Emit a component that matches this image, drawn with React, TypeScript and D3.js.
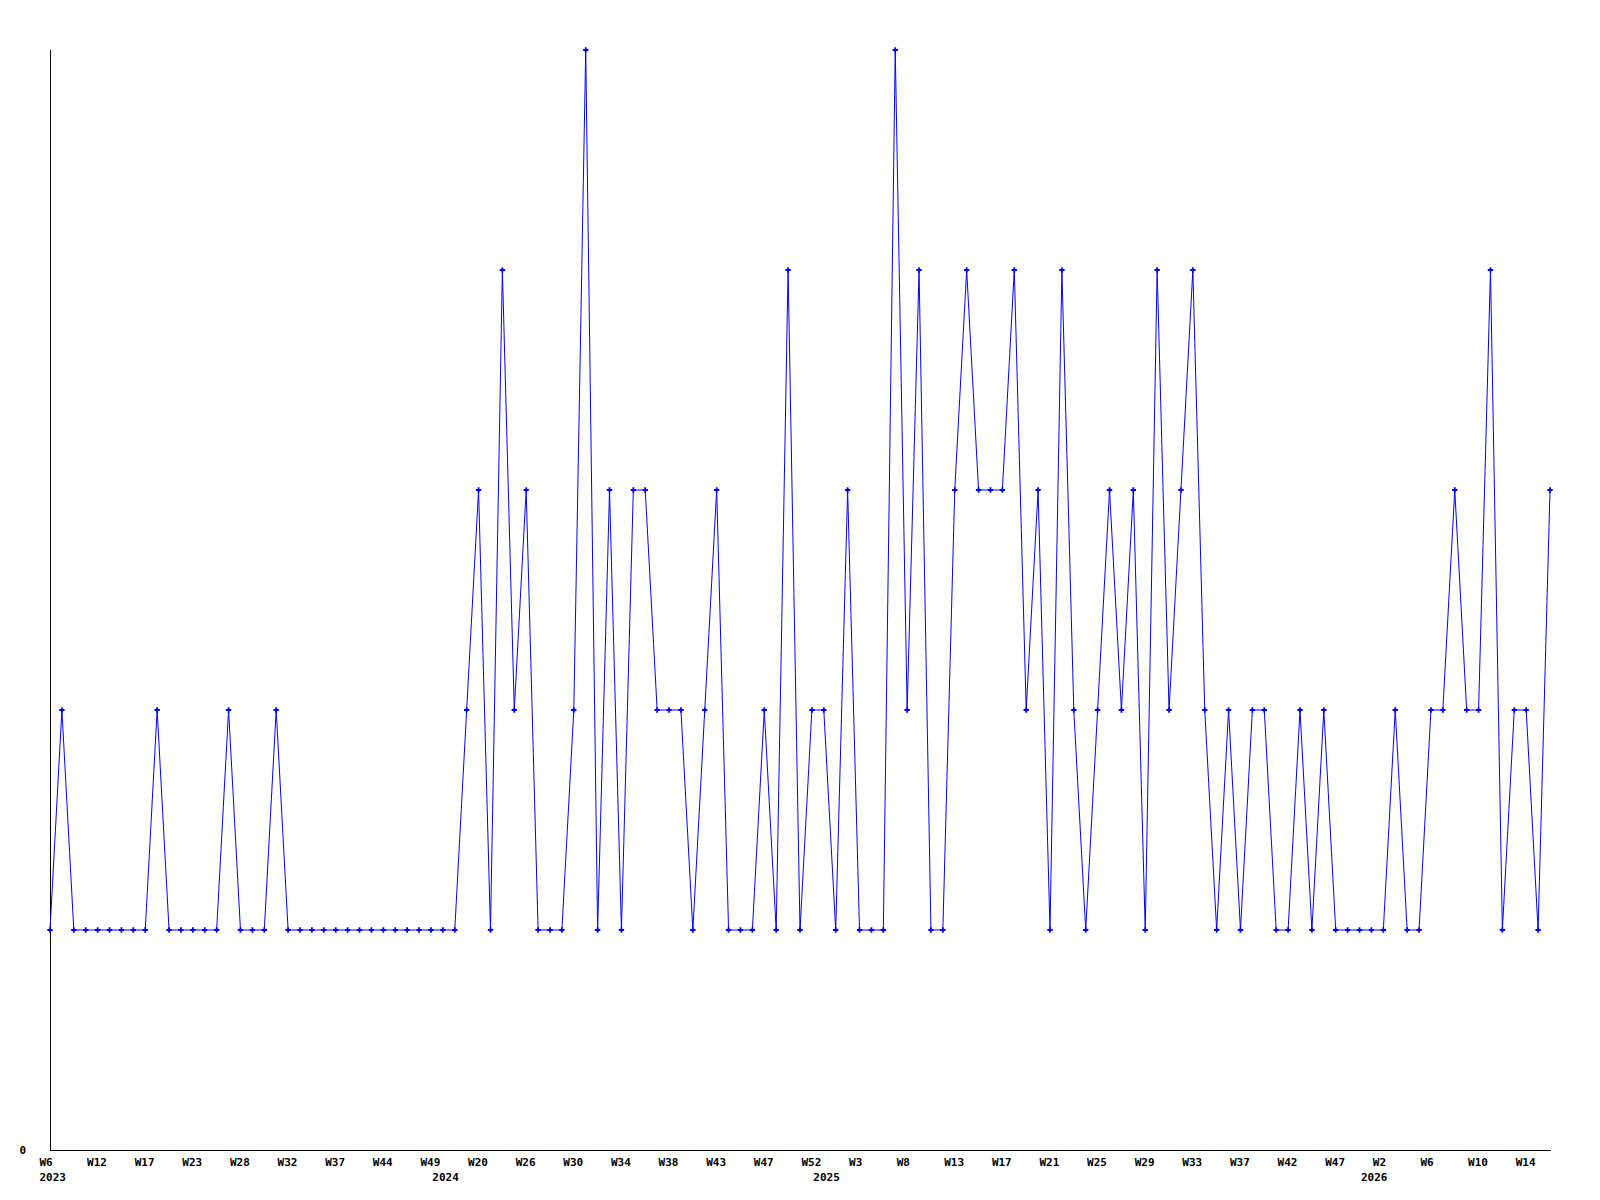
import React from "react";
import * as d3 from "d3";

// Weekly values, one per data point (left to right)
const values: number[] = [
  1, 2, 1, 1, 1, 1, 1, 1, 1, 2, 1, 1, 1, 1, 1, 2, 1, 1, 1, 2,
  1, 1, 1, 1, 1, 1, 1, 1, 1, 1, 1, 1, 1, 1, 1,
  2, 3, 1, 4, 2, 3, 1, 1, 1, 2, 5, 1, 3, 1, 3, 3, 2, 2, 2, 1, 2, 3, 1,
  1, 1, 2, 1, 4, 1, 2, 2, 1, 3,
  1, 1, 1, 5, 2, 4, 1, 1, 3, 4,
  3, 3, 3, 4, 2, 3, 1, 4, 2, 1,
  2, 3, 2, 3, 1, 4, 2, 3, 4, 2,
  1, 2, 1, 2, 2, 1, 1, 2, 1, 2,
  1, 1, 1, 1, 1, 2, 1, 1, 2, 2,
  3, 2, 2, 4, 1, 2, 2, 1, 3,
];

// Week tick labels, shown on every 4th data point
const weekTicks: string[] = [
  "W6", "W12", "W17", "W23", "W28", "W32", "W37", "W44", "W49", "W20",
  "W26", "W30", "W34", "W38", "W43", "W47", "W52", "W3", "W8", "W13",
  "W17", "W21", "W25", "W29", "W33", "W37", "W42", "W47", "W2", "W6",
  "W10", "W14",
];
const tickEvery = 4;

// Year labels at first data point of each year
const yearIndex: number[] = [0, 33, 65, 111];
const yearLabel: string[] = ["2023", "2024", "2025", "2026"];

const yMax = 5;

export default function App() {
  const W = 1600;
  const H = 1200;
  const left = 50;
  const right = 1550;
  const top = 50;
  const bottom = 1150;

  const x = d3.scaleLinear().domain([0, values.length - 1]).range([left, right]);
  const y = d3.scaleLinear().domain([0, yMax]).range([bottom, top]);

  const line = d3
    .line<number>()
    .x((_, i) => x(i))
    .y((d) => y(d));

  const marker = d3.symbol().type(d3.symbolCross).size(16)() as string;

  const font = "'DejaVu Sans Mono', 'Liberation Mono', monospace";

  return (
    <div style={{ position: "absolute", left: 0, top: 0 }}>
      <svg width={W} height={H} style={{ display: "block", background: "#fff" }}>
        <rect x={0} y={0} width={W} height={H} fill="#fff" />
        {/* axes */}
        <line x1={left + 0.5} x2={left + 0.5} y1={top} y2={bottom + 1} stroke="#000" strokeWidth={1} />
        <line x1={left} x2={right + 1} y1={bottom + 0.5} y2={bottom + 0.5} stroke="#000" strokeWidth={1} />
        <text x={19.5} y={1153.5} fontFamily={font} fontWeight="bold" fontSize={11} fill="#000">
          {d3.format("d")(y.domain()[0])}
        </text>
        {/* x tick labels */}
        {weekTicks.map((t, j) => (
          <text
            key={"w" + j}
            x={x(j * tickEvery) - 10.5}
            y={1165.5}
            fontFamily={font}
            fontWeight="bold"
            fontSize={11}
            fill="#000"
          >
            {t}
          </text>
        ))}
        {yearIndex.map((idx, k) => (
          <text
            key={"y" + k}
            x={x(idx) - 10.5}
            y={1181}
            fontFamily={font}
            fontWeight="bold"
            fontSize={11}
            fill="#000"
          >
            {yearLabel[k]}
          </text>
        ))}
        {/* data line */}
        <path d={line(values) as string} fill="none" stroke="#0000ff" strokeWidth={1} />
        {values.map((v, i) => (
          <path key={"m" + i} d={marker} transform={`translate(${x(i)},${y(v)})`} fill="#0000ff" />
        ))}
      </svg>
    </div>
  );
}
